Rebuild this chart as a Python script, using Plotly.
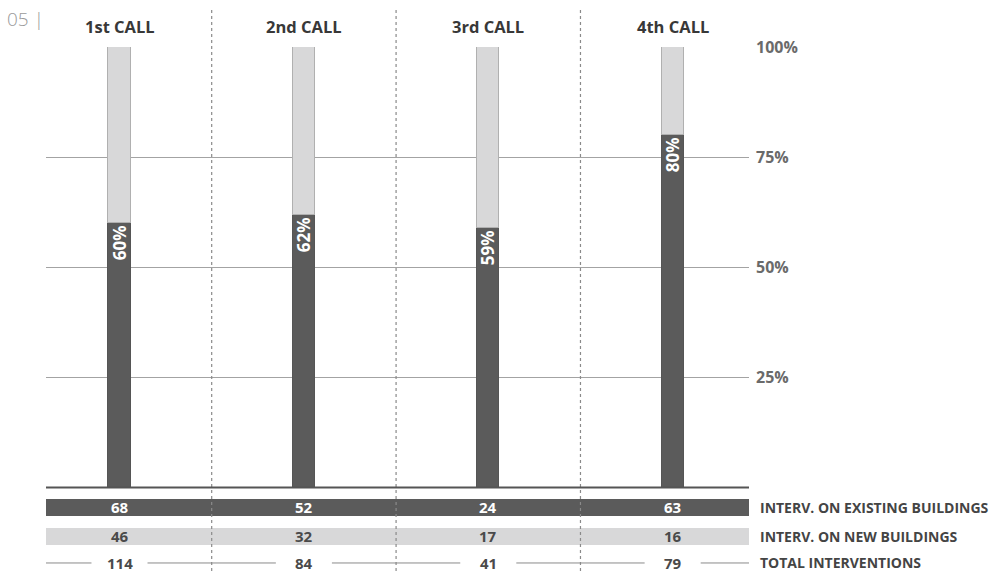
import plotly.graph_objects as go

# Data
calls = ["1st CALL", "2nd CALL", "3rd CALL", "4th CALL"]
share_existing = [60, 62, 59, 80]          # % of interventions on existing buildings
share_new = [40, 38, 41, 20]               # remaining share (new buildings)
n_existing = [68, 52, 24, 63]
n_new = [46, 32, 17, 16]
n_total = [114, 84, 41, 79]
row_labels = ["INTERV. ON EXISTING BUILDINGS", "INTERV. ON NEW BUILDINGS", "TOTAL INTERVENTIONS"]
y_ticks = [25, 50, 75, 100]
y_ticktext = ["25%", "50%", "75%", "100%"]

FONT = "Open Sans"
DARK = "#5b5b5b"
LIGHT = "#d8d8d9"
xs = list(range(len(calls)))
x_lo, x_hi = -0.3986, 3.414
bar_w = 0.121

fig = go.Figure()
fig.add_trace(go.Bar(
    x=xs, y=share_existing, width=bar_w,
    marker=dict(color=DARK, line=dict(color="#555555", width=1)),
    texttemplate="%{y}%", textposition="inside", insidetextanchor="end",
    textangle=-90, constraintext="none",
    textfont=dict(family=FONT, size=17, color="white", weight="bold"),
    hoverinfo="skip", showlegend=False,
))
fig.add_trace(go.Bar(
    x=xs, y=share_new, width=bar_w,
    marker=dict(color=LIGHT, line=dict(color="#b0b0b0", width=1)),
    hoverinfo="skip", showlegend=False,
))

shapes = []
# column dividers
for i in range(len(calls) - 1):
    shapes.append(dict(type="line", xref="x", yref="paper", x0=i + 0.5, x1=i + 0.5,
                       y0=-0.188, y1=1.086, line=dict(color="#8a8a8a", width=1.2, dash="dot"),
                       layer="above"))
# baseline
shapes.append(dict(type="line", xref="paper", yref="paper", x0=0, x1=1, y0=0.001, y1=0.001,
                   line=dict(color="#555555", width=2)))
# table bands
band_rows = [(-0.0249, -0.0635, DARK), (-0.0907, -0.1290, LIGHT)]
for y0, y1, col in band_rows:
    shapes.append(dict(type="rect", xref="paper", yref="paper", x0=0, x1=1, y0=y1, y1=y0,
                       fillcolor=col, line=dict(width=0), layer="below"))
# total row connecting lines
gap = 0.152
y_tot = -0.1700
segs = [(x_lo, xs[0] - gap)]
for i in range(len(xs) - 1):
    segs.append((xs[i] + gap, xs[i + 1] - gap))
segs.append((xs[-1] + gap, x_hi))
for a, b in segs:
    shapes.append(dict(type="line", xref="x", yref="paper", x0=a, x1=b, y0=y_tot, y1=y_tot,
                       line=dict(color="#8a8a8a", width=1)))

ann = []
def note(x, y, text, size, color, xref="x", xanchor="center", weight="bold"):
    ann.append(dict(x=x, y=y, xref=xref, yref="paper", text=text, showarrow=False,
                    xanchor=xanchor, yanchor="middle", borderpad=0,
                    font=dict(family=FONT, size=size, color=color, weight=weight)))

for i, c in enumerate(calls):
    note(i, 1.0454, c, 16.5, "#383838")
    note(i, -0.0442, str(n_existing[i]), 15, "white")
    note(i, -0.1098, str(n_new[i]), 15, "#4a4a4a")
    note(i, y_tot, str(n_total[i]), 15, "#4a4a4a")
for lab, y in zip(row_labels, [-0.0442, -0.1098, y_tot]):
    note(1.0145, y, lab, 14, "#444444", xref="paper", xanchor="left")
note(-0.057, 1.0635, "05 |", 19, "#9a9a9a", xref="paper", xanchor="left", weight=300)

fig.update_layout(
    width=992, height=573, barmode="stack", bargap=0,
    margin=dict(l=46, r=243, t=47, b=85),
    paper_bgcolor="white", plot_bgcolor="white",
    xaxis=dict(range=[x_lo, x_hi], showticklabels=False, showgrid=False, zeroline=False,
               showline=False, fixedrange=True),
    yaxis=dict(range=[0, 100], side="right", tickvals=y_ticks, ticktext=y_ticktext,
               showgrid=True, gridcolor="#a3a3a3", gridwidth=1, zeroline=False, showline=False,
               ticklabelstandoff=6,
               tickfont=dict(family=FONT, size=16, color="#6a6a6a", weight="bold")),
    shapes=shapes, annotations=ann,
)

fig.write_html("out.html")
